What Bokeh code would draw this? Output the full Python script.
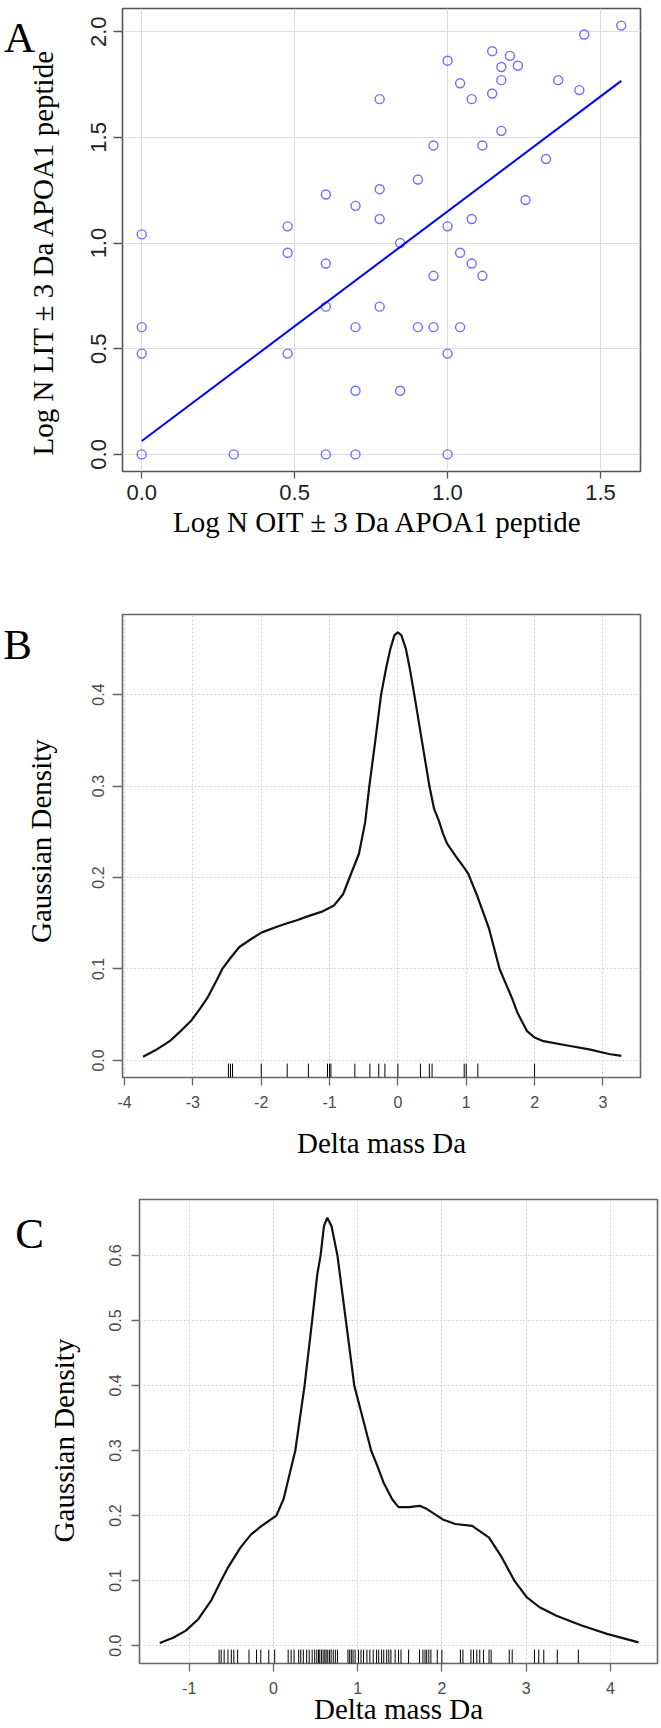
import math
from bokeh.plotting import figure
from bokeh.layouts import column, row
from bokeh.models import Range1d, FixedTicker, NumeralTickFormatter
from bokeh.core.properties import value
from bokeh.embed import file_html
from bokeh.resources import INLINE

# ---------------- Panel A data ----------------
a_x = [1.568, 1.447, 1.000, 1.146, 1.204, 1.176, 1.230, 1.041, 1.176, 1.362,
       1.146, 1.431, 1.079, 0.778, 1.176, 0.954, 1.114, 1.322, 0.903, 0.778,
       0.602, 0.699, 1.255, 0.778, 1.079, 0.477, 1.000, 0.000, 0.845, 0.477,
       1.041, 0.602, 1.079, 0.954, 1.114,
       0.602, 0.778, 0.000, 0.699, 0.903, 0.954, 1.041, 0.000, 0.477, 1.000,
       0.699, 0.845, 0.000, 0.301, 0.602, 0.699, 1.000]
a_y = [2.029, 1.987, 1.863, 1.908, 1.886, 1.833, 1.839, 1.756, 1.771, 1.771,
       1.708, 1.724, 1.681, 1.681, 1.531, 1.462, 1.462, 1.398, 1.301, 1.255,
       1.230, 1.176, 1.204, 1.114, 1.114, 1.079, 1.079, 1.041, 1.000, 0.954,
       0.954, 0.903, 0.903, 0.845, 0.845,
       0.699, 0.699, 0.602, 0.602, 0.602, 0.602, 0.602, 0.477, 0.477, 0.477,
       0.301, 0.301, 0.000, 0.000, 0.000, 0.000, 0.000]
fit_intercept = 0.063
fit_slope = 1.087
a_xticks = [0.0, 0.5, 1.0, 1.5]
a_yticks = [0.0, 0.5, 1.0, 1.5, 2.0]

# ---------------- Panel B data ----------------
b_x = [-3.73, -3.55, -3.34, -3.18, -3.03, -2.90, -2.79, -2.65, -2.57, -2.45,
       -2.32, -2.14, -1.99, -1.74, -1.62, -1.49, -1.30, -1.10, -0.94, -0.80,
       -0.707, -0.57, -0.48, -0.418, -0.33, -0.246, -0.17, -0.11, -0.05, 0.0,
       0.05, 0.117, 0.17, 0.24, 0.35, 0.461, 0.53, 0.60, 0.66, 0.72,
       0.84, 0.966, 1.03, 1.15, 1.33, 1.488, 1.67, 1.75, 1.89, 2.0,
       2.13, 2.5, 2.8, 3.09, 3.27]
b_y = [0.004, 0.011, 0.021, 0.032, 0.043, 0.056, 0.068, 0.088, 0.100, 0.112,
       0.124, 0.133, 0.140, 0.147, 0.150, 0.153, 0.158, 0.163, 0.169, 0.182,
       0.200, 0.226, 0.260, 0.300, 0.350, 0.400, 0.430, 0.450, 0.465, 0.468,
       0.465, 0.450, 0.430, 0.400, 0.350, 0.300, 0.275, 0.262, 0.248, 0.237,
       0.224, 0.211, 0.204, 0.182, 0.145, 0.100, 0.068, 0.052, 0.032, 0.025,
       0.021, 0.016, 0.012, 0.007, 0.005]
b_rug = [-2.48, -2.45, -2.42, -2.0, -1.62, -1.31, -1.03, -1.0, -0.98, -0.63,
         -0.41, -0.28, -0.19, 0.0, 0.33, 0.46, 0.5, 0.97, 1.0, 1.17, 2.0]
b_xticks = [-4, -3, -2, -1, 0, 1, 2, 3]
b_yticks = [0.0, 0.1, 0.2, 0.3, 0.4]

# ---------------- Panel C data ----------------
c_x = [-1.35, -1.19, -1.04, -0.89, -0.74, -0.64, -0.54, -0.39, -0.265, -0.14,
       0.035, 0.12, 0.26, 0.37, 0.46, 0.52, 0.56, 0.60, 0.64, 0.69,
       0.76, 0.86, 0.96, 1.16, 1.235, 1.31, 1.41, 1.485, 1.61, 1.735,
       1.81, 2.01, 2.16, 2.36, 2.56, 2.71, 2.86, 3.01, 3.16, 3.36,
       3.66, 3.96, 4.335]
c_y = [0.004, 0.012, 0.023, 0.041, 0.069, 0.095, 0.120, 0.151, 0.171, 0.184,
       0.200, 0.225, 0.300, 0.400, 0.500, 0.570, 0.600, 0.645, 0.658, 0.645,
       0.600, 0.500, 0.400, 0.300, 0.276, 0.250, 0.225, 0.213, 0.213, 0.215,
       0.211, 0.194, 0.187, 0.184, 0.166, 0.136, 0.100, 0.074, 0.059, 0.046,
       0.031, 0.018, 0.005]
c_rug = [-0.645, -0.62, -0.585, -0.54, -0.50, -0.47, -0.425, -0.29, -0.20, -0.15,
         -0.055, 0.015, 0.175, 0.21, 0.245, 0.30, 0.325, 0.355, 0.395, 0.425,
         0.46, 0.49, 0.515, 0.535, 0.55, 0.57, 0.59, 0.61, 0.625, 0.645,
         0.665, 0.685, 0.71, 0.735, 0.76, 0.885, 0.905, 0.925, 0.945, 0.97,
         1.01, 1.04, 1.07, 1.11, 1.145, 1.185, 1.225, 1.25, 1.285, 1.31,
         1.345, 1.37, 1.395, 1.445, 1.485, 1.515, 1.605, 1.735, 1.775, 1.80,
         1.82, 1.845, 1.87, 1.945, 2.0, 2.22, 2.25, 2.345, 2.375, 2.415,
         2.45, 2.495, 2.56, 2.585, 2.80, 2.835, 3.10, 3.15, 3.21, 3.37, 3.62]
c_xticks = [-1, 0, 1, 2, 3, 4]
c_yticks = [0.0, 0.1, 0.2, 0.3, 0.4, 0.5, 0.6]

panel_letters = ["A", "B", "C"]
a_xlabel = "Log N OIT \u00b1 3 Da APOA1  peptide"
a_ylabel = "Log N LIT \u00b1 3 Da APOA1  peptide"
b_xlabel = "Delta mass Da"
b_ylabel = "Gaussian  Density"
c_xlabel = "Delta mass Da"
c_ylabel = "Gaussian Density"

SERIF = "Liberation Serif"
SANS = "Liberation Sans"


def base_fig(w, h, xr, yr, top, bottom, left, right):
    p = figure(width=w, height=h, x_range=Range1d(*xr), y_range=Range1d(*yr),
               output_backend="svg", toolbar_location=None,
               min_border_top=top, min_border_bottom=bottom,
               min_border_left=left, min_border_right=right)
    p.background_fill_color = "white"
    p.border_fill_color = "white"
    return p


def side_fig(w, h, top, bottom, letter, lx, ly, ylab, tx, ty):
    """Left margin strip (pixel coordinates from the strip's top-left):
    panel letter and the rotated y-axis title."""
    q = figure(width=w, height=h, x_range=Range1d(0, w), y_range=Range1d(h - bottom, top),
               x_axis_type=None, y_axis_type=None, output_backend="svg",
               toolbar_location=None, min_border=0, min_border_left=0,
               min_border_right=0, min_border_top=top, min_border_bottom=bottom)
    q.outline_line_color = None
    q.grid.visible = False
    q.background_fill_color = "white"
    q.border_fill_color = "white"
    q.text(x=[lx], y=[ly], text=[letter], text_font=value(SERIF),
           text_font_size="43px", text_color="black",
           text_align="center", text_baseline="alphabetic")
    q.text(x=[tx], y=[ty], text=[ylab], text_font=value(SERIF), angle=math.pi / 2,
           text_font_size="29px", text_color="black",
           text_align="center", text_baseline="middle")
    return q


def style_axes(p, xticks, yticks, xfmt, yfmt, tick_size, tick_color, xl,
               outline_color, grid_dash, grid_color,
               xtick_out, ytick_out, xl_stand, yl_stand, xal_stand):
    p.outline_line_color = outline_color
    p.outline_line_width = 1.6
    for ax, ticks, fmt, tout, ls in ((p.xaxis[0], xticks, xfmt, xtick_out, xl_stand),
                                     (p.yaxis[0], yticks, yfmt, ytick_out, yl_stand)):
        ax.ticker = FixedTicker(ticks=ticks)
        ax.formatter = NumeralTickFormatter(format=fmt)
        ax.minor_tick_line_color = None
        ax.axis_line_color = None
        ax.major_tick_in = 0
        ax.major_tick_out = tout
        ax.major_tick_line_color = outline_color
        ax.major_tick_line_width = 1.3
        ax.major_label_text_font = SANS
        ax.major_label_text_font_size = tick_size
        ax.major_label_text_color = tick_color
        ax.major_label_standoff = ls
    xa = p.xaxis[0]
    xa.axis_label = xl
    xa.axis_label_text_font = SERIF
    xa.axis_label_text_font_size = "29px"
    xa.axis_label_text_font_style = "normal"
    xa.axis_label_text_color = "black"
    xa.axis_label_standoff = xal_stand
    p.yaxis[0].major_label_orientation = "vertical"
    for g, ticks in ((p.xgrid[0], xticks), (p.ygrid[0], yticks)):
        g.ticker = FixedTicker(ticks=ticks)
        g.grid_line_color = grid_color
        g.grid_line_width = 1
        if grid_dash:
            g.grid_line_dash = grid_dash


# ---------------- Figure A ----------------
pa = base_fig(591, 570, (-0.063, 1.631), (-0.081, 2.11), 8, 99, 52, 21)
style_axes(pa, a_xticks, a_yticks, "0.0", "0.0", "22px", "#222222", a_xlabel,
           "#555555", None, "#dcdcdc", 7, 9, 6, 7, 3)
pa.scatter(a_x, a_y, marker="circle", size=9, fill_color=None,
           line_color="#6f6fff", line_width=1.4)
x0, x1 = min(a_x), max(a_x)
pa.line([x0, x1], [fit_intercept + fit_slope * x0, fit_intercept + fit_slope * x1],
        line_color="#0000ff", line_width=2)
sa = side_fig(70, 570, 8, 99, panel_letters[0], 19, 37, a_ylabel, 42, 248)

# ---------------- Figure B ----------------
b_yr = (-0.0187, 0.4876)
pb = base_fig(591, 605, (-4.03, 3.55), b_yr, 44, 98, 52, 21)
style_axes(pb, b_xticks, b_yticks, "0", "0.0", "16px", "#4a4a4a", b_xlabel,
           "#666666", "2 2", "#d0d0d0", 8, 10, 10, 8, 16)
pb.line(b_x, b_y, line_color="#111111", line_width=2.2)
b_rug_top = b_yr[0] + 0.03 * (b_yr[1] - b_yr[0])
pb.segment(x0=b_rug, y0=[b_yr[0]] * len(b_rug), x1=b_rug, y1=[b_rug_top] * len(b_rug),
           line_color="black", line_width=1)
sb = side_fig(70, 605, 44, 98, panel_letters[1], 17, 74, b_ylabel, 40, 267)

# ---------------- Figure C ----------------
c_yr = (-0.0275, 0.686)
pc = base_fig(574, 553, (-1.59, 4.56), c_yr, 24, 65, 52, 4)
style_axes(pc, c_xticks, c_yticks, "0", "0.0", "16px", "#4a4a4a", c_xlabel,
           "#666666", "2 2", "#d0d0d0", 8, 8, 10, 10, -4)
pc.line(c_x, c_y, line_color="#111111", line_width=2.2)
c_rug_top = c_yr[0] + 0.03 * (c_yr[1] - c_yr[0])
pc.segment(x0=c_rug, y0=[c_yr[0]] * len(c_rug), x1=c_rug, y1=[c_rug_top] * len(c_rug),
           line_color="black", line_width=1)
sc = side_fig(87, 553, 24, 65, panel_letters[2], 29, 58, c_ylabel, 63, 265)

layout = column(row(sa, pa, spacing=0), row(sb, pb, spacing=0), row(sc, pc, spacing=0),
                spacing=0)
open("out.html", "w").write(file_html(layout, INLINE))
